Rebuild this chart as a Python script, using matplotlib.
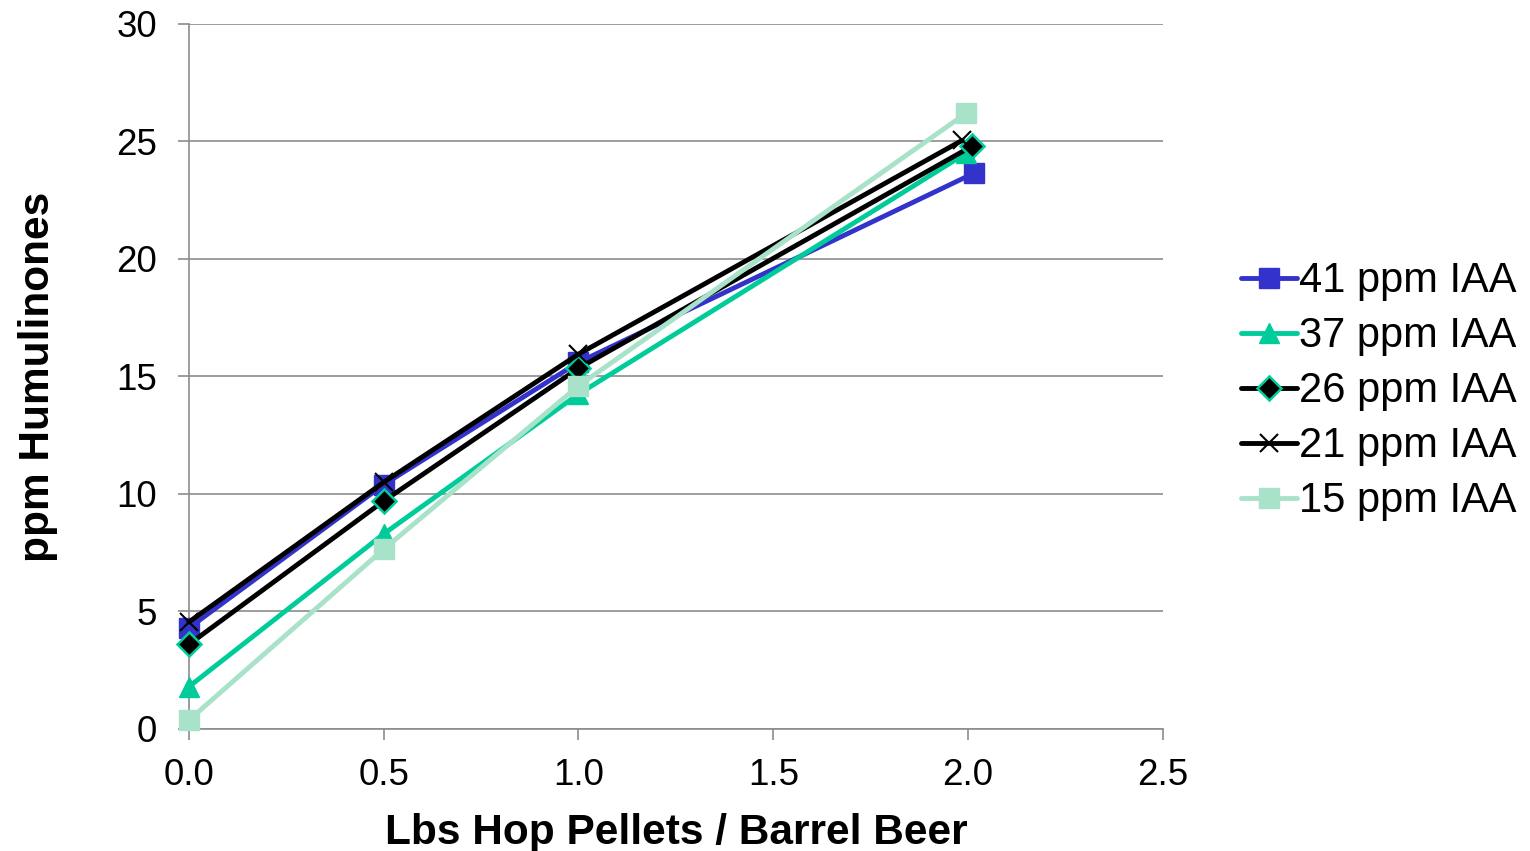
import matplotlib
matplotlib.use("Agg")
import matplotlib.pyplot as plt

plt.rcParams['font.family'] = ['Liberation Sans', 'DejaVu Sans']

labels = ["41 ppm IAA", "37 ppm IAA", "26 ppm IAA", "21 ppm IAA", "15 ppm IAA"]
x41 = [0.0, 0.5, 1.0, 2.015]
y41 = [4.3, 10.4, 15.6, 23.65]
x37 = [0.0, 0.5, 1.0, 1.995]
y37 = [1.8, 8.3, 14.25, 24.5]
x26 = [0.0, 0.5, 1.0, 2.01]
y26 = [3.6, 9.7, 15.35, 24.8]
x21 = [0.0, 0.5, 1.0, 1.985]
y21 = [4.55, 10.5, 15.95, 25.05]
x15 = [0.0, 0.5, 1.0, 1.995]
y15 = [0.38, 7.65, 14.6, 26.2]

xticks = [0.0, 0.5, 1.0, 1.5, 2.0, 2.5]
yticks = [0, 5, 10, 15, 20, 25, 30]

fig = plt.figure(figsize=(15.3, 8.51), dpi=100)
ax = fig.add_axes([0.1235, 0.1434, 0.6365, 0.8284])

lw = 3.5
styles = [
    dict(color="#3333CC", marker="s", ms=14, mfc="#3333CC", mec="#3333CC"),
    dict(color="#00CC99", marker="^", ms=15, mfc="#00CC99", mec="#00CC99"),
    dict(color="#000000", marker="D", ms=12, mfc="#000000", mec="#00CC99", mew=1.8),
    dict(color="#000000", marker="x", ms=13, mfc="#000000", mec="#000000", mew=1.5),
    dict(color="#A8E2C8", marker="s", ms=14, mfc="#A8E2C8", mec="#A8E2C8"),
]
series = [(x41, y41), (x37, y37), (x26, y26), (x21, y21), (x15, y15)]
for i, ((xs, ys), st, lab) in enumerate(zip(series, styles, labels)):
    ax.plot(xs, ys, lw=lw, label=lab, zorder=3 + i, solid_capstyle='round',
            clip_on=False, **st)

ax.set_xlim(0, 2.5)
ax.set_ylim(0, 30)
ax.set_xticks(xticks)
ax.set_xticklabels([f"{v:.1f}" for v in xticks])
ax.set_yticks(yticks)
ax.set_yticklabels([str(v) for v in yticks])
ax.grid(axis='y', color="#8c8c8c", lw=1.2)
ax.set_axisbelow(True)
for s in ["top", "right"]:
    ax.spines[s].set_visible(False)
for s in ["left", "bottom"]:
    ax.spines[s].set_color("#8c8c8c")
    ax.spines[s].set_linewidth(1.2)
ax.tick_params(axis='both', colors="#8c8c8c", length=8, width=1.2, labelsize=26.5, labelcolor="black")
ax.tick_params(axis='x', pad=13)
ax.tick_params(axis='y', pad=15)
ax.set_xlabel("Lbs Hop Pellets / Barrel Beer", fontsize=30.5, fontweight='bold', labelpad=14)
ax.set_ylabel("ppm Humulinones", fontsize=30.5, fontweight='bold', labelpad=42)

leg = fig.legend(loc='center left', bbox_to_anchor=(0.8, 0.54), frameon=False, fontsize=30,
                 handlelength=1.35, handletextpad=0.05, labelspacing=0.36, borderaxespad=0)

fig.savefig("out.png", dpi=100)
